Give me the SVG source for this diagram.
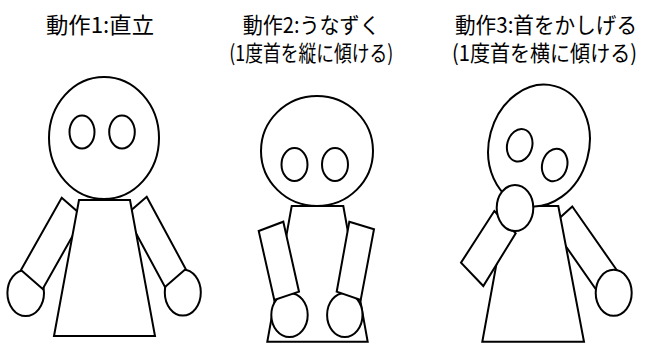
<svg xmlns="http://www.w3.org/2000/svg" width="645" height="345" viewBox="0 0 645 345">
  <style>
    .part { fill: #ffffff; stroke: #000000; stroke-width: 2; stroke-linejoin: miter; }
    .title { font-family: "Noto Sans CJK JP", "Noto Sans", sans-serif; font-size: 22px; fill: #000000; }
  </style>
  <rect width="645" height="345" fill="#ffffff"/>

  <!-- Pose 1: standing upright -->
  <g id="pose1">
    <text class="title" x="46" y="33" textLength="108" lengthAdjust="spacingAndGlyphs">動作1:直立</text>
    <ellipse class="part" cx="25.7" cy="293" rx="18.3" ry="23"/>
    <ellipse class="part" cx="182.8" cy="292.5" rx="18" ry="23"/>
    <polygon class="part" points="61.7,197.7 83.4,216.7 42.7,289 21,270"/>
    <polygon class="part" points="146.7,196.7 185.7,269 165,287 126,214.7"/>
    <polygon class="part" points="79,200 130,200 155,336 54,336"/>
    <ellipse class="part" cx="104" cy="138" rx="55" ry="61"/>
    <ellipse class="part" cx="82" cy="132" rx="12.5" ry="16.5"/>
    <ellipse class="part" cx="122" cy="132" rx="12.8" ry="16.5"/>
  </g>

  <!-- Pose 2: nodding -->
  <g id="pose2">
    <text class="title" x="242.7" y="33" textLength="137" lengthAdjust="spacingAndGlyphs">動作2:うなずく</text>
    <text class="title" x="229.3" y="60.5" textLength="164" lengthAdjust="spacingAndGlyphs">(1度首を縦に傾ける)</text>
    <polygon class="part" points="291.7,206 343.3,206 367.7,341.7 267.3,341.7"/>
    <ellipse class="part" cx="289.5" cy="315" rx="18.2" ry="22"/>
    <ellipse class="part" cx="344.8" cy="315" rx="17.7" ry="22"/>
    <polygon class="part" points="258.7,231 283.3,221.7 299,291.7 274.3,300"/>
    <polygon class="part" points="349.3,221.7 374,229.3 360.7,300 336.7,291.7"/>
    <ellipse class="part" cx="317" cy="151" rx="56" ry="55"/>
    <ellipse class="part" cx="294.5" cy="164.5" rx="13" ry="16.5"/>
    <ellipse class="part" cx="335" cy="164.5" rx="13" ry="16.5"/>
  </g>

  <!-- Pose 3: tilting the head -->
  <g id="pose3">
    <text class="title" x="455" y="33" textLength="182" lengthAdjust="spacingAndGlyphs">動作3:首をかしげる</text>
    <text class="title" x="452" y="60.5" textLength="185" lengthAdjust="spacingAndGlyphs">(1度首を横に傾ける)</text>
    <polygon class="part" points="572.3,206.5 616.7,270 595.7,289 551.3,225.5"/>
    <polygon class="part" points="507,206 558.3,206 584,341.7 482.3,341.7"/>
    <ellipse class="part" cx="613.7" cy="292.8" rx="18" ry="23"/>
    <polygon class="part" points="494.3,211 515.7,233.3 483.3,286 461,262.7"/>
    <ellipse class="part" cx="539" cy="145.5" rx="50" ry="61.5" transform="rotate(15 539 145.5)"/>
    <ellipse class="part" cx="519.7" cy="145.3" rx="12.5" ry="16.5" transform="rotate(15 519.7 145.3)"/>
    <ellipse class="part" cx="554.7" cy="165" rx="12.5" ry="16.5" transform="rotate(15 554.7 165)"/>
    <ellipse class="part" cx="515" cy="208" rx="18.3" ry="23"/>
  </g>
</svg>
